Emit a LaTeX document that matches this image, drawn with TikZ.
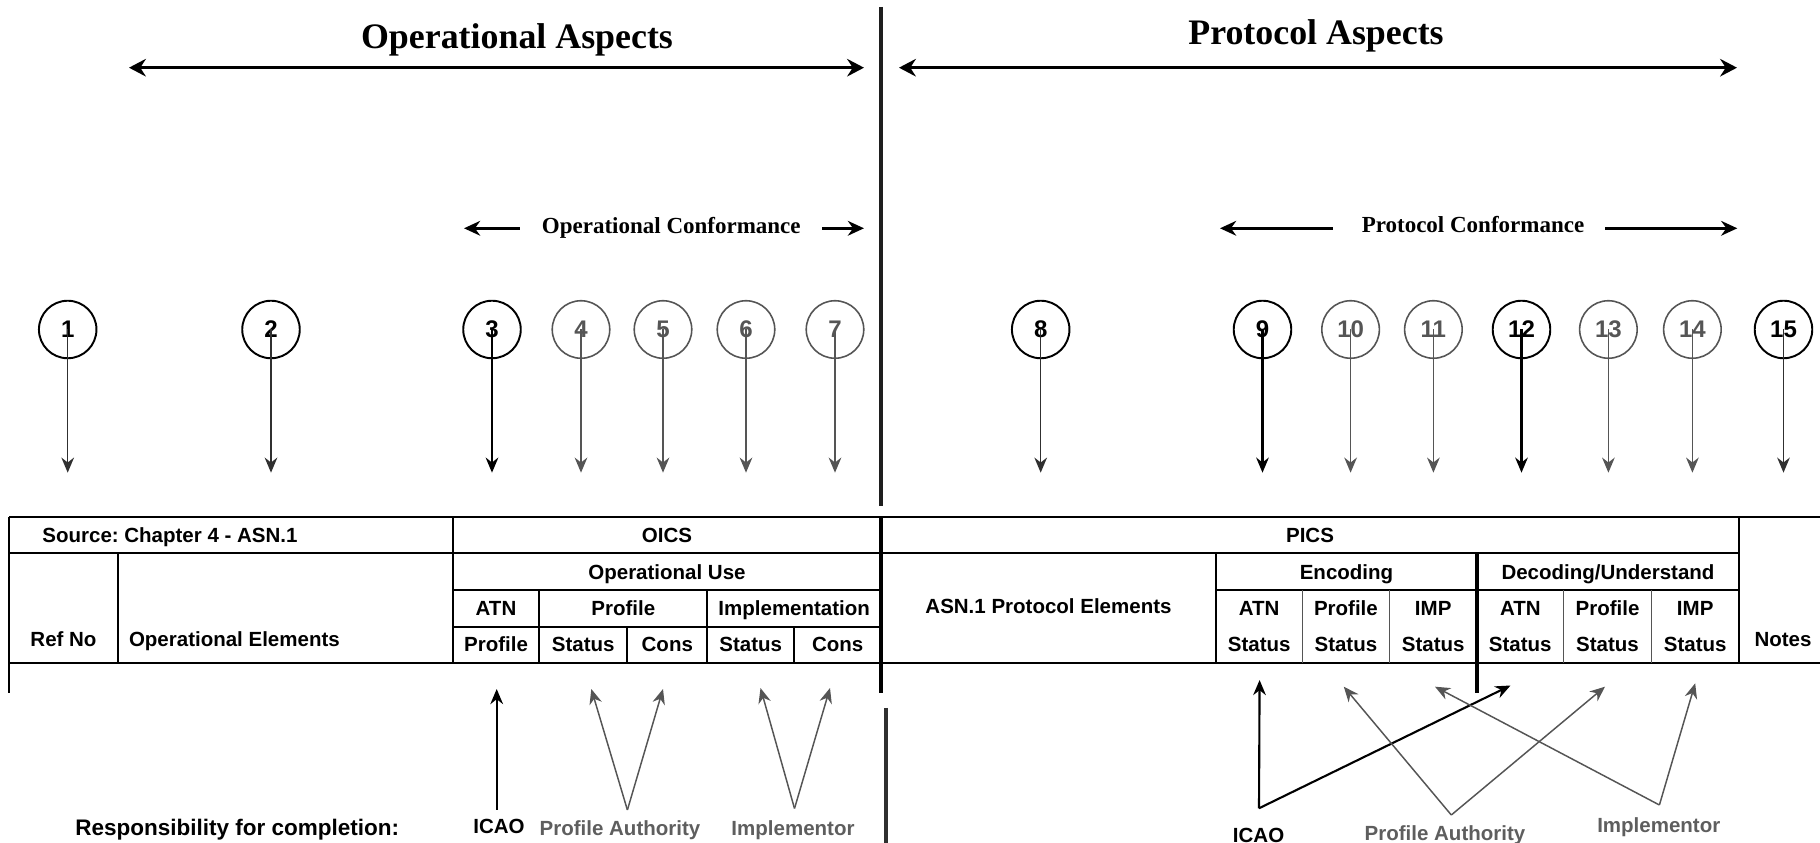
\documentclass[tikz,border=0pt]{standalone}
\usepackage{fontspec}
\setmainfont{Liberation Serif}
\setsansfont{Liberation Sans}
\usetikzlibrary{arrows.meta}

\definecolor{ink}{HTML}{000000}
\definecolor{dark}{HTML}{303030}
\definecolor{mid}{HTML}{555555}
\definecolor{soft}{HTML}{5E5E5E}
\definecolor{bar}{HTML}{1E1E1E}

\begin{document}
\frenchspacing
\begin{tikzpicture}[x=0.01cm,y=-0.01cm,
  title/.style={font=\rmfamily\bfseries\fontsize{10.2}{12}\selectfont, inner sep=0, anchor=base},
  conf/.style={font=\rmfamily\bfseries\fontsize{6.54}{8}\selectfont, inner sep=0, anchor=base},
  cell/.style={font=\sffamily\bfseries\fontsize{5.83}{7}\selectfont, inner sep=0, anchor=base},
  lbl/.style={font=\sffamily\bfseries\fontsize{5.83}{7}\selectfont, inner sep=0, anchor=base},
  num/.style={circle, draw, minimum size=0.575cm, inner sep=0,
    font=\sffamily\bfseries\fontsize{6.83}{8}\selectfont},
  numk/.style={draw=ink, text=ink, line width=0.55pt},
  numg/.style={draw=mid, text=mid, line width=0.45pt},
  bigarr/.style={line width=0.85pt, draw=ink,
    {Stealth[length=4.8pt,width=5pt,inset=1.6pt]}-{Stealth[length=4.8pt,width=5pt,inset=1.6pt]}},
  confarr/.style={line width=0.9pt, draw=ink, -{Stealth[length=4.6pt,width=4.2pt,inset=1.5pt]}},
  tip/.style={-{Stealth[length=4.3pt,width=3.6pt,inset=1.4pt]}},
  arrk/.style={tip, line width=0.6pt, draw=ink},
  arrd/.style={tip, line width=0.42pt, draw=dark},
  arrg/.style={tip, line width=0.42pt, draw=mid},
  rule/.style={line width=0.55pt, draw=ink},
  fine/.style={line width=0.3pt, draw=mid},
  divider/.style={line width=1.4pt, draw=bar},
]
\useasboundingbox (0,0) rectangle (1820,843);

% ---- headings over the two halves
\node[title] (opasp) at (517,48.5) {Operational Aspects};
\node[title] (prasp) at (1316,45) {Protocol Aspects};
\coordinate (opL) at (129,67.7);  \coordinate (opR) at (864,67.7);
\coordinate (prL) at (899,67.7);  \coordinate (prR) at (1737,67.7);
\draw[bigarr] (opL) -- (opR);
\draw[bigarr] (prL) -- (prR);

\node[conf] (opconf) at (671.3,233.3) {Operational Conformance};
\node[conf] (prconf) at (1473,233) {Protocol Conformance};
\coordinate (ocA) at (519.5,228.3); \coordinate (ocL) at (464,228.3);
\coordinate (ocB) at (822,228.3);   \coordinate (ocR) at (864,228.3);
\coordinate (pcA) at (1332.6,228.3); \coordinate (pcL) at (1220,228.3);
\coordinate (pcB) at (1605.4,228.3); \coordinate (pcR) at (1737.3,228.3);
\draw[confarr] (ocA) -- (ocL);
\draw[confarr] (ocB) -- (ocR);
\draw[confarr] (pcA) -- (pcL);
\draw[confarr] (pcB) -- (pcR);

% ---- central divider
\coordinate (dvT) at (881,7);   \coordinate (dvM) at (881,506);
\coordinate (dvU) at (886,708); \coordinate (dvB) at (886,843);
\draw[divider] (dvT) -- (dvM);
\draw[divider, draw=dark] (dvU) -- (dvB);

% ---- numbered column markers
\foreach \i/\x/\ns/\as in {1/67.7/numk/arrd, 2/271/numk/arrd, 3/492/numk/arrk,
    4/581/numg/arrg, 5/663/numg/arrg, 6/746/numg/arrg, 7/835/numg/arrg,
    8/1040.7/numk/arrd, 9/1262.5/numk/arrk, 10/1350.6/numg/arrg,
    11/1433.4/numg/arrg, 12/1521.5/numk/arrk, 13/1608.4/numg/arrg,
    14/1692.4/numg/arrg, 15/1783.5/numk/arrd} {
  \node[num,\ns] (c\i) at (\x,329.5) {\i};
  \coordinate (t\i) at (\x,472.7);
  \draw[\as] (c\i.center) -- (t\i);
}

% ---- table rules
\draw[rule] (9,517) -- (1820,517);
\draw[rule] (9,553) -- (1739,553);
\draw[rule] (453,590) -- (881,590);
\draw[rule] (1216,590) -- (1739,590);
\draw[rule] (453,627) -- (881,627);
\draw[rule] (9,663) -- (1820,663);
\draw[rule] (9,517) -- (9,693);
\draw[rule] (118,553) -- (118,663);
\draw[rule] (453,517) -- (453,663);
\draw[rule] (539.3,590) -- (539.3,663);
\draw[rule] (627.3,627) -- (627.3,663);
\draw[rule] (707.3,590) -- (707.3,663);
\draw[rule] (794.3,627) -- (794.3,663);
\draw[rule, line width=1pt] (881,517) -- (881,693);
\draw[rule] (1216,553) -- (1216,663);
\draw[fine] (1302.4,590) -- (1302.4,663);
\draw[fine] (1389.4,590) -- (1389.4,663);
\draw[rule, line width=0.9pt] (1477,553) -- (1477,693);
\draw[fine] (1563.7,590) -- (1563.7,663);
\draw[fine] (1651.4,590) -- (1651.4,663);
\draw[rule] (1739,517) -- (1739,663);

% ---- table texts
\node[cell, anchor=base west] (src) at (41.7,542.7) {Source: Chapter 4 - ASN.1};
\node[cell] (oics) at (667,542.7) {OICS};
\node[cell] (pics) at (1310,542.7) {PICS};
\node[cell] (opuse) at (667,579.3) {Operational Use};
\node[cell] (enc) at (1346.5,579.3) {Encoding};
\node[cell] (dec) at (1608,579.3) {Decoding/Understand};
\node[cell] (refno) at (63.5,646.7) {Ref No};
\node[cell, anchor=base west] (opel) at (128.3,646.7) {Operational Elements};
\node[cell] (asn) at (1048.5,614) {ASN.1 Protocol Elements};
\node[cell] (notes) at (1783,646.7) {Notes};

\node[cell] (hatn) at (496,615.3) {ATN};
\node[cell] (hprof) at (623.3,615.3) {Profile};
\node[cell] (himp) at (794.2,615.3) {Implementation};
\node[cell] (sprof) at (496,651.7) {Profile};
\node[cell] (pst) at (583.3,651.7) {Status};
\node[cell] (pcn) at (667.3,651.7) {Cons};
\node[cell] (ist) at (750.8,651.7) {Status};
\node[cell] (icn) at (837.7,651.7) {Cons};

\foreach \k/\x/\h in {ea/1259.2/ATN, ep/1345.9/Profile, ei/1433.2/IMP,
                      da/1520.3/ATN, dp/1607.5/Profile, di/1695.2/IMP} {
  \node[cell] (\k h) at (\x,615.3) {\h};
  \node[cell] (\k s) at (\x,651.7) {Status};
}

% ---- who completes which column
\node[cell, anchor=base west, font=\sffamily\bfseries\fontsize{6.4}{8}\selectfont]
  (resp) at (74.6,835.5) {Responsibility for completion:};
\node[lbl, text=ink] (icaoA) at (499,834) {ICAO};
\node[lbl, text=soft] (paA) at (620,835.5) {Profile Authority};
\node[lbl, text=soft] (imA) at (793,836) {Implementor};
\node[lbl, text=ink] (icaoB) at (1258.6,842.5) {ICAO};
\node[lbl, text=soft] (paB) at (1445,841) {Profile Authority};
\node[lbl, text=soft] (imB) at (1658.8,832.7) {Implementor};

\coordinate (vIA) at (496.7,810);   \coordinate (uIA) at (496.7,689);
\coordinate (vPA) at (627.4,810);   \coordinate (uPA1) at (591.3,689);  \coordinate (uPA2) at (663,689);
\coordinate (vMA) at (794.5,808.5); \coordinate (uMA1) at (760.5,688);  \coordinate (uMA2) at (830,688);
\draw[arrk] (vIA) -- (uIA);
\draw[arrg] (vPA) -- (uPA1);
\draw[arrg] (vPA) -- (uPA2);
\draw[arrg] (vMA) -- (uMA1);
\draw[arrg] (vMA) -- (uMA2);

\coordinate (vIB) at (1259,808.3);  \coordinate (uIB1) at (1259.6,680); \coordinate (uIB2) at (1510.5,685.5);
\coordinate (vPB) at (1451.3,815);  \coordinate (uPB1) at (1343.8,686.7); \coordinate (uPB2) at (1605,686.7);
\coordinate (vMB) at (1659.4,805);  \coordinate (uMB1) at (1435,686.7); \coordinate (uMB2) at (1695.2,683.3);
\draw[arrk] (vIB) -- (uIB1);
\draw[arrk] (vIB) -- (uIB2);
\draw[arrg] (vPB) -- (uPB1);
\draw[arrg] (vPB) -- (uPB2);
\draw[arrg] (vMB) -- (uMB1);
\draw[arrg] (vMB) -- (uMB2);
\end{tikzpicture}
\end{document}
